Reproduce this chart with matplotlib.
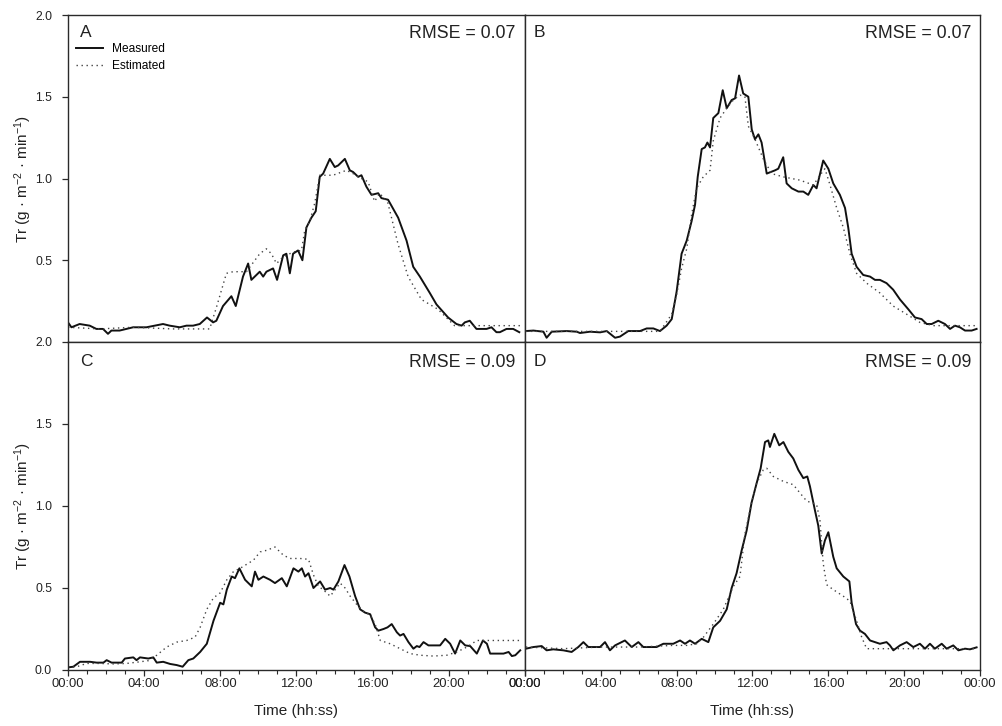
import matplotlib
matplotlib.use("Agg")
import matplotlib.pyplot as plt
from matplotlib.ticker import FixedLocator, MultipleLocator

plt.rcParams['font.family'] = ['Liberation Sans', 'DejaVu Sans']
plt.rcParams['mathtext.default'] = 'regular'

# ---- Panel A ----
a_meas_t = [0, 0.18, 0.61, 1.14, 1.49, 1.84, 2.10, 2.28, 2.71, 3.42, 4.12, 4.99, 5.34, 5.87, 6.22,
            6.57, 6.92, 7.30, 7.62, 7.79, 8.14, 8.58, 8.81, 9.19, 9.46, 9.63, 10.07, 10.25, 10.42,
            10.77, 10.98, 11.30, 11.47, 11.65, 11.82, 12.08, 12.31, 12.52, 12.78, 13.01, 13.22,
            13.40, 13.75, 14.01, 14.19, 14.54, 14.80, 14.97, 15.24, 15.41, 15.67, 15.94, 16.29,
            16.46, 16.81, 17.34, 17.78, 18.13, 18.48, 19.00, 19.35, 19.96, 20.40, 20.67, 20.84,
            21.10, 21.45, 21.98, 22.24, 22.50, 22.68, 23.03, 23.38, 23.70]
a_meas = [0.12, 0.09, 0.11, 0.10, 0.08, 0.08, 0.05, 0.07, 0.07, 0.09, 0.09, 0.11, 0.10, 0.09, 0.10,
          0.10, 0.11, 0.15, 0.12, 0.13, 0.22, 0.28, 0.22, 0.40, 0.48, 0.38, 0.43, 0.40, 0.43,
          0.45, 0.38, 0.53, 0.54, 0.42, 0.54, 0.56, 0.50, 0.70, 0.76, 0.80, 1.01,
          1.03, 1.12, 1.07, 1.08, 1.12, 1.05, 1.04, 1.01, 1.02, 0.95, 0.90, 0.91,
          0.88, 0.87, 0.76, 0.62, 0.46, 0.40, 0.30, 0.23, 0.15, 0.11, 0.10, 0.12,
          0.13, 0.08, 0.08, 0.09, 0.06, 0.06, 0.08, 0.08, 0.06]
a_est_t = [0, 1.66, 3.4, 5.5, 7.44, 7.79, 8.32, 8.67, 9.37, 10.07, 10.42, 10.68, 10.95, 11.30,
           11.82, 12.26, 12.43, 12.70, 12.96, 13.22, 13.57, 13.92, 14.62, 14.97, 15.41, 15.76,
           16.10, 16.37, 16.80, 17.33, 17.86, 18.56, 19.43, 20.30, 23.80]
a_est = [0.09, 0.08, 0.09, 0.08, 0.08, 0.21, 0.42, 0.43, 0.43, 0.54, 0.57, 0.54, 0.48, 0.52,
         0.55, 0.56, 0.68, 0.74, 0.85, 1.02, 1.02, 1.02, 1.05, 1.03, 1.00, 0.98,
         0.86, 0.91, 0.85, 0.60, 0.40, 0.26, 0.20, 0.10, 0.10]

# ---- Panel B ----
b_meas_t = [0.05, 0.44, 0.97, 1.14, 1.41, 2.20, 2.73, 2.90, 3.43, 3.96, 4.31, 4.75, 5.01, 5.45,
            6.07, 6.42, 6.77, 7.12, 7.47, 7.74, 8.00, 8.26, 8.53, 8.79, 8.97, 9.11, 9.32, 9.49,
            9.62, 9.76, 9.93, 10.20, 10.43, 10.64, 10.90, 11.08, 11.29, 11.51, 11.78, 11.96,
            12.13, 12.31, 12.48, 12.75, 13.19, 13.36, 13.62, 13.80, 14.07, 14.42, 14.68, 14.94,
            15.21, 15.38, 15.73, 16.00, 16.26, 16.61, 16.88, 17.05, 17.23, 17.49, 17.84, 18.20,
            18.46, 18.72, 19.07, 19.42, 19.78, 20.22, 20.57, 20.92, 21.19, 21.45, 21.80, 22.15,
            22.42, 22.68, 22.94, 23.21, 23.56, 23.82]
b_meas = [0.067, 0.07, 0.063, 0.026, 0.063, 0.067, 0.063, 0.055, 0.063, 0.059, 0.067, 0.026, 0.033,
          0.067, 0.067, 0.083, 0.083, 0.067, 0.10, 0.14, 0.31, 0.54, 0.62, 0.74, 0.84, 1.01, 1.18,
          1.19, 1.22, 1.19, 1.37, 1.40, 1.54, 1.43, 1.48, 1.49, 1.63, 1.52, 1.50, 1.30,
          1.24, 1.27, 1.22, 1.03, 1.05, 1.06, 1.13, 0.97, 0.94, 0.92, 0.92, 0.90,
          0.96, 0.94, 1.11, 1.06, 0.97, 0.90, 0.82, 0.70, 0.54, 0.46, 0.41, 0.40,
          0.38, 0.38, 0.36, 0.32, 0.26, 0.20, 0.15, 0.14, 0.11, 0.11, 0.13, 0.11,
          0.08, 0.10, 0.09, 0.07, 0.07, 0.08]
b_est_t = [0.05, 3.0, 7.12, 7.74, 8.00, 8.26, 8.53, 8.79, 9.05, 9.40, 9.76, 9.93, 10.29, 10.64,
           10.99, 11.34, 11.60, 11.78, 12.13, 12.57, 13.01, 13.62, 14.50, 15.21, 15.56, 15.82,
           16.09, 16.44, 16.79, 17.14, 17.49, 18.02, 18.72, 19.42, 20.13, 20.83, 21.54, 23.82]
b_est = [0.065, 0.065, 0.065, 0.17, 0.29, 0.45, 0.57, 0.78, 0.94, 1.01, 1.05, 1.23, 1.37, 1.43,
         1.48, 1.51, 1.50, 1.32, 1.24, 1.12, 1.03, 1.01, 0.99, 0.96, 1.02, 1.06,
         0.96, 0.82, 0.70, 0.54, 0.42, 0.36, 0.30, 0.22, 0.17, 0.12, 0.10, 0.10]

# ---- Panel C ----
c_meas_t = [0, 0.28, 0.63, 1.16, 1.50, 1.86, 2.03, 2.29, 2.82, 2.99, 3.43, 3.60, 3.78, 4.22, 4.48,
            4.66, 5.00, 5.36, 5.71, 6.02, 6.32, 6.58, 6.94, 7.29, 7.64, 7.99, 8.16, 8.34, 8.60,
            8.77, 9.00, 9.30, 9.65, 9.82, 10.00, 10.26, 10.61, 10.87, 11.23, 11.49, 11.84, 12.10,
            12.28, 12.45, 12.63, 12.89, 13.24, 13.50, 13.77, 13.94, 14.20, 14.52, 14.78, 15.08,
            15.34, 15.60, 15.87, 16.13, 16.30, 16.57, 16.78, 17.00, 17.27, 17.44, 17.62, 17.88,
            18.14, 18.32, 18.46, 18.67, 18.93, 19.19, 19.54, 19.81, 20.07, 20.33, 20.60, 20.86,
            21.12, 21.47, 21.79, 22.00, 22.17, 22.87, 23.14, 23.31, 23.49, 23.75]
c_meas = [0.016, 0.02, 0.05, 0.05, 0.045, 0.045, 0.06, 0.045, 0.045, 0.07, 0.077, 0.06, 0.077, 0.07,
          0.077, 0.045, 0.05, 0.037, 0.03, 0.02, 0.06, 0.07, 0.11, 0.16, 0.30, 0.41, 0.40, 0.49,
          0.57, 0.56, 0.62, 0.55, 0.51, 0.60, 0.55, 0.57, 0.55, 0.53, 0.56, 0.51, 0.62, 0.60,
          0.62, 0.57, 0.59, 0.50, 0.54, 0.49, 0.50, 0.49, 0.54, 0.64, 0.57, 0.45,
          0.37, 0.35, 0.34, 0.26, 0.24, 0.25, 0.26, 0.28, 0.23, 0.21, 0.22, 0.17,
          0.13, 0.146, 0.14, 0.17, 0.15, 0.15, 0.15, 0.19, 0.16, 0.10, 0.18, 0.15,
          0.146, 0.10, 0.18, 0.16, 0.10, 0.10, 0.11, 0.085, 0.09, 0.12]
c_est_t = [0, 0.46, 0.98, 1.68, 2.38, 3.08, 3.78, 4.22, 4.66, 5.18, 5.71, 6.23, 6.67, 6.94, 7.29,
           7.64, 7.99, 8.34, 8.69, 9.04, 9.74, 10.09, 10.44, 10.87, 11.31, 11.66, 12.19, 12.63,
           12.89, 13.15, 13.40, 13.77, 14.03, 14.29, 14.55, 14.82, 15.16, 15.50, 15.87, 16.13,
           16.40, 16.92, 17.44, 17.97, 18.50, 19.19, 19.89, 20.42, 20.95, 21.47, 22.17, 23.75]
c_est = [0.016, 0.02, 0.04, 0.04, 0.037, 0.04, 0.05, 0.057, 0.09, 0.14, 0.17, 0.18, 0.20, 0.26,
         0.37, 0.44, 0.47, 0.55, 0.60, 0.62, 0.67, 0.72, 0.73, 0.75, 0.70, 0.68, 0.68, 0.675,
         0.58, 0.51, 0.49, 0.45, 0.49, 0.53, 0.50, 0.45, 0.40, 0.36, 0.335, 0.28,
         0.18, 0.16, 0.13, 0.10, 0.09, 0.085, 0.09, 0.11, 0.14, 0.18, 0.18, 0.18]

# ---- Panel D ----
d_meas_t = [0.05, 0.44, 0.88, 1.14, 1.49, 2.02, 2.46, 2.81, 3.08, 3.34, 3.96, 4.22, 4.48, 4.75,
            5.27, 5.63, 5.98, 6.24, 6.94, 7.30, 7.82, 8.18, 8.44, 8.70, 8.97, 9.32, 9.67, 9.93,
            10.29, 10.64, 10.90, 11.16, 11.43, 11.69, 11.95, 12.22, 12.43, 12.66, 12.83, 12.92,
            13.15, 13.41, 13.63, 13.89, 14.15, 14.42, 14.68, 14.89, 15.03, 15.30, 15.47, 15.65,
            15.82, 16.00, 16.26, 16.44, 16.79, 17.11, 17.23, 17.46, 17.67, 17.93, 18.20, 18.72,
            19.07, 19.25, 19.43, 19.78, 20.13, 20.48, 20.83, 21.10, 21.36, 21.62, 21.98, 22.24,
            22.59, 22.86, 23.21, 23.47, 23.82]
d_meas = [0.13, 0.14, 0.146, 0.12, 0.126, 0.12, 0.11, 0.14, 0.17, 0.14, 0.14, 0.17, 0.12, 0.15,
          0.18, 0.14, 0.17, 0.14, 0.14, 0.16, 0.16, 0.18, 0.16, 0.18, 0.16, 0.19, 0.17, 0.26,
          0.30, 0.37, 0.50, 0.59, 0.73, 0.85, 1.02, 1.14, 1.23, 1.39, 1.40, 1.36,
          1.44, 1.37, 1.39, 1.33, 1.29, 1.22, 1.17, 1.18, 1.12, 0.97, 0.88, 0.71,
          0.79, 0.84, 0.69, 0.62, 0.57, 0.54, 0.41, 0.28, 0.24, 0.22, 0.18, 0.16,
          0.17, 0.15, 0.12, 0.15, 0.17, 0.14, 0.16, 0.13, 0.16, 0.13, 0.16, 0.13,
          0.15, 0.12, 0.13, 0.126, 0.138]
d_est_t = [0.05, 2.0, 4.0, 6.0, 7.82, 8.53, 9.05, 9.41, 9.93, 10.46, 10.99, 11.34, 11.60, 11.95,
           12.22, 12.57, 12.75, 13.10, 13.63, 14.15, 14.50, 14.86, 15.38, 15.56, 15.73, 15.91,
           16.26, 16.79, 17.14, 17.49, 17.76, 18.02, 19.78, 23.82]
d_est = [0.14, 0.13, 0.14, 0.14, 0.15, 0.15, 0.16, 0.20, 0.28, 0.37, 0.51, 0.57, 0.83, 1.02,
         1.14, 1.22, 1.23, 1.18, 1.15, 1.13, 1.08, 1.03, 1.01, 0.91, 0.65, 0.52,
         0.49, 0.45, 0.42, 0.30, 0.20, 0.13, 0.13, 0.13]

panel_letters = ['A', 'B', 'C', 'D']
rmse_values = [0.07, 0.07, 0.09, 0.09]
hour_ticks = [0, 4, 8, 12, 16, 20, 24]
hour_labels = ['00:00', '04:00', '08:00', '12:00', '16:00', '20:00', '00:00']

series = [
    (a_meas_t, a_meas, a_est_t, a_est),
    (b_meas_t, b_meas, b_est_t, b_est),
    (c_meas_t, c_meas, c_est_t, c_est),
    (d_meas_t, d_meas, d_est_t, d_est),
]

W, H = 1003, 726
fig = plt.figure(figsize=(W / 100, H / 100), dpi=100)

# panel boxes in pixels: (left, top, right, bottom)
boxes = [(68, 15, 525, 342), (525, 15, 980, 342),
         (68, 342, 525, 670), (525, 342, 980, 670)]

spine_color = '#2a2a2a'
ylabel_text = 'Tr (g · m$^{-2}$ · min$^{-1}$)'

for i, (l, t, r, b) in enumerate(boxes):
    ax = fig.add_axes([l / W, 1 - b / H, (r - l) / W, (b - t) / H])
    mt, mv, et, ev = series[i]
    ax.plot(mt, mv, color='#111111', lw=1.4, label='Measured')
    ax.plot(et, ev, color='#444444', lw=1.0, linestyle=(0, (1, 2.6)), label='Estimated')
    ax.set_xlim(0, 24)
    ax.set_ylim(0, 2.0)
    for s in ax.spines.values():
        s.set_color(spine_color)
        s.set_linewidth(1.0)

    left_col = i in (0, 2)
    bottom_row = i in (2, 3)

    if bottom_row:
        ax.xaxis.set_major_locator(FixedLocator(hour_ticks))
        ax.set_xticklabels(hour_labels)
        ax.xaxis.set_minor_locator(MultipleLocator(1))
        ax.tick_params(axis='x', which='major', direction='out', length=4, width=0.9,
                       pad=2, labelsize=9.4, colors=spine_color, labelcolor='#222222')
        ax.tick_params(axis='x', which='minor', direction='out', length=3, width=0.8,
                       colors=spine_color)
        ax.set_xlabel('Time (hh:ss)', fontsize=11, color='#222222')
        ax.xaxis.set_label_coords(0.5, -0.105)
    else:
        ax.set_xticks([])

    if left_col:
        yt = [0.0, 0.5, 1.0, 1.5, 2.0] if bottom_row else [0.5, 1.0, 1.5, 2.0]
        ax.set_yticks(yt)
        ax.set_yticklabels([f'{v:.1f}' for v in yt])
        ax.tick_params(axis='y', direction='out', length=4.5, width=0.9, pad=7,
                       labelsize=8.8, colors=spine_color, labelcolor='#222222')
        ax.set_ylabel(ylabel_text, fontsize=11, color='#222222')
        ax.yaxis.set_label_coords(-0.074, 0.5)
    else:
        ax.set_yticks([])

    x_letter = 0.026 if left_col else 0.018
    y_text = 0.945 if not bottom_row else 0.94
    ax.text(x_letter, y_text, panel_letters[i], transform=ax.transAxes,
            ha='left', va='center', fontsize=12.5, color='#222222')
    x_rmse = 0.978 if left_col else 0.982
    ax.text(x_rmse, y_text - 0.003, f'RMSE = {rmse_values[i]:.2f}', transform=ax.transAxes,
            ha='right', va='center', fontsize=12.8, color='#222222')

    if i == 0:
        ax.legend(loc='upper left', bbox_to_anchor=(0.017, 0.915), borderaxespad=0,
                  borderpad=0, frameon=False, fontsize=8.6, handlelength=2.3,
                  handletextpad=0.75, labelspacing=0.42)

fig.savefig('out.png', dpi=100)
